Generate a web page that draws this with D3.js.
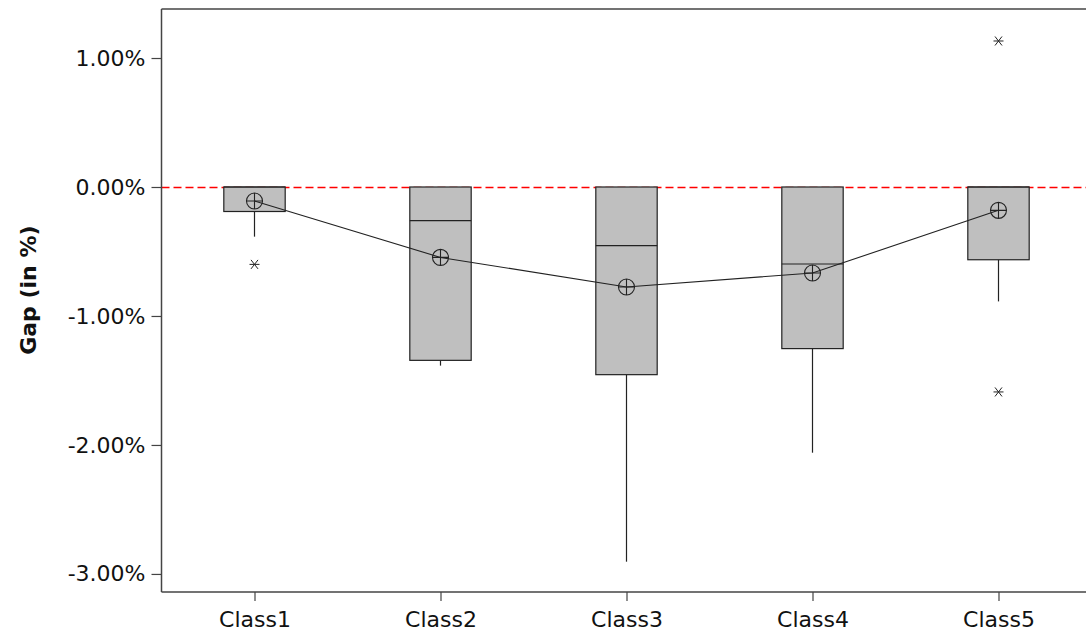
<!DOCTYPE html>
<html>
<head>
<meta charset="utf-8">
<script src="https://cdn.jsdelivr.net/npm/d3@7"></script>
<style>
  html, body { margin: 0; padding: 0; background: #fff; }
  svg { display: block; }
  text { font-family: "DejaVu Sans", Verdana, sans-serif; fill: #111; }
</style>
</head>
<body>
<svg id="chart" width="1086" height="632"></svg>
<script>
// Gap distribution per class (values in percent)
const categories = ["Class1", "Class2", "Class3", "Class4", "Class5"];
const q3Values      = [0, 0, 0, 0, 0];
const medianValues  = [0, -0.26, -0.455, -0.597, 0];
const q1Values      = [-0.19, -1.344, -1.455, -1.253, -0.564];
const whiskerLow    = [-0.385, -1.385, -2.905, -2.06, -0.887];
const whiskerHigh   = [0, 0, 0, 0, 0];
const meanValues    = [-0.108, -0.546, -0.775, -0.667, -0.181];
const outlierCats   = ["Class1", "Class5", "Class5"];
const outlierValues = [-0.60, 1.132, -1.589];
const yTicks        = [1, 0, -1, -2, -3];
const yTitle        = "Gap (in %)";

const svg = d3.select("#chart");
const plotLeft = 161.5, plotTop = 9, plotBottom = 592, plotRight = 1091.5;

const x = d3.scalePoint().domain(categories).range([plotLeft, plotRight]).padding(0.5);
const y = d3.scaleLinear().domain([-3.14, 1.38]).range([plotBottom, plotTop]);
const boxW = x.step() * 0.33;

const boxes = categories.map((c, i) => ({
  cat: c, q3: q3Values[i], med: medianValues[i], q1: q1Values[i],
  lo: whiskerLow[i], hi: whiskerHigh[i], mean: meanValues[i]
}));

// reference line at zero (snapped to the pixel grid so the dashes stay crisp)
const zeroY = Math.round(y(0)) + 0.5;
svg.append("line")
  .attr("x1", plotLeft).attr("x2", 1086)
  .attr("y1", zeroY).attr("y2", zeroY)
  .attr("stroke", "#ff0000").attr("stroke-width", 1.3)
  .attr("stroke-dasharray", "8,4");

// whiskers
const g = svg.append("g");
g.selectAll("line.wlo").data(boxes).join("line")
  .attr("x1", d => x(d.cat)).attr("x2", d => x(d.cat))
  .attr("y1", d => y(d.q1)).attr("y2", d => y(d.lo))
  .attr("stroke", "#222").attr("stroke-width", 1.2);
g.selectAll("line.whi").data(boxes).join("line")
  .attr("x1", d => x(d.cat)).attr("x2", d => x(d.cat))
  .attr("y1", d => y(d.q3)).attr("y2", d => y(d.hi))
  .attr("stroke", "#222").attr("stroke-width", 1.2);

// boxes
g.selectAll("rect.box").data(boxes).join("rect")
  .attr("x", d => x(d.cat) - boxW / 2)
  .attr("width", boxW)
  .attr("y", d => y(d.q3))
  .attr("height", d => y(d.q1) - y(d.q3))
  .attr("fill", "#bfbfbf").attr("stroke", "#222").attr("stroke-width", 1.2);

// medians
g.selectAll("line.med").data(boxes).join("line")
  .attr("x1", d => x(d.cat) - boxW / 2).attr("x2", d => x(d.cat) + boxW / 2)
  .attr("y1", d => y(d.med)).attr("y2", d => y(d.med))
  .attr("stroke", "#222").attr("stroke-width", 1.2);

// outliers
const star = "M-5,0L5,0M-3.5,-4.5L3.5,4.5M-3.5,4.5L3.5,-4.5";
svg.append("g").selectAll("path").data(outlierValues).join("path")
  .attr("d", star)
  .attr("transform", (v, i) => `translate(${x(outlierCats[i])},${y(v)})`)
  .attr("fill", "none").attr("stroke", "#222").attr("stroke-width", 1);

// mean connect line
svg.append("path")
  .datum(boxes)
  .attr("d", d3.line().x(d => x(d.cat)).y(d => y(d.mean)))
  .attr("fill", "none").attr("stroke", "#222").attr("stroke-width", 1.1);

// mean symbols (circle with cross)
const r = 8;
const ms = svg.append("g").selectAll("g").data(boxes).join("g")
  .attr("transform", d => `translate(${x(d.cat)},${y(d.mean)})`);
ms.append("circle").attr("r", r).attr("fill", "none").attr("stroke", "#222").attr("stroke-width", 1.1);
ms.append("path").attr("d", `M${-r},0L${r},0M0,${-r}L0,${r}`)
  .attr("stroke", "#222").attr("stroke-width", 1.1);

// axes
const yAxis = svg.append("g")
  .attr("transform", `translate(${plotLeft},0)`)
  .call(d3.axisLeft(y).tickValues(yTicks).tickFormat(d => d.toFixed(2) + "%").tickSizeOuter(0).tickSize(10).tickPadding(6));
const xAxis = svg.append("g")
  .attr("transform", `translate(0,${plotBottom})`)
  .call(d3.axisBottom(x).tickSizeOuter(0).tickSize(9).tickPadding(10));
[yAxis, xAxis].forEach(a => {
  a.select(".domain").attr("stroke", "#444").attr("stroke-width", 1.5);
  a.selectAll(".tick line").attr("stroke", "#444").attr("stroke-width", 1.2);
  a.selectAll(".tick text").attr("font-size", 22).attr("font-family", "DejaVu Sans, Verdana, sans-serif").attr("fill", "#111");
});
// x-domain line runs to the window edge
xAxis.select(".domain").attr("d", `M${plotLeft},0H1086`);
yAxis.select(".domain").attr("d", `M0,${plotTop}V${plotBottom}`);

// top frame
svg.append("line")
  .attr("x1", plotLeft).attr("x2", 1086).attr("y1", plotTop).attr("y2", plotTop)
  .attr("stroke", "#444").attr("stroke-width", 1.5);

// y title
svg.append("text")
  .attr("transform", `translate(36,${(y(0) + y(-1.6)) / 2}) rotate(-90)`)
  .attr("text-anchor", "middle")
  .attr("font-size", 22).attr("font-weight", "bold")
  .text(yTitle);
</script>
</body>
</html>
